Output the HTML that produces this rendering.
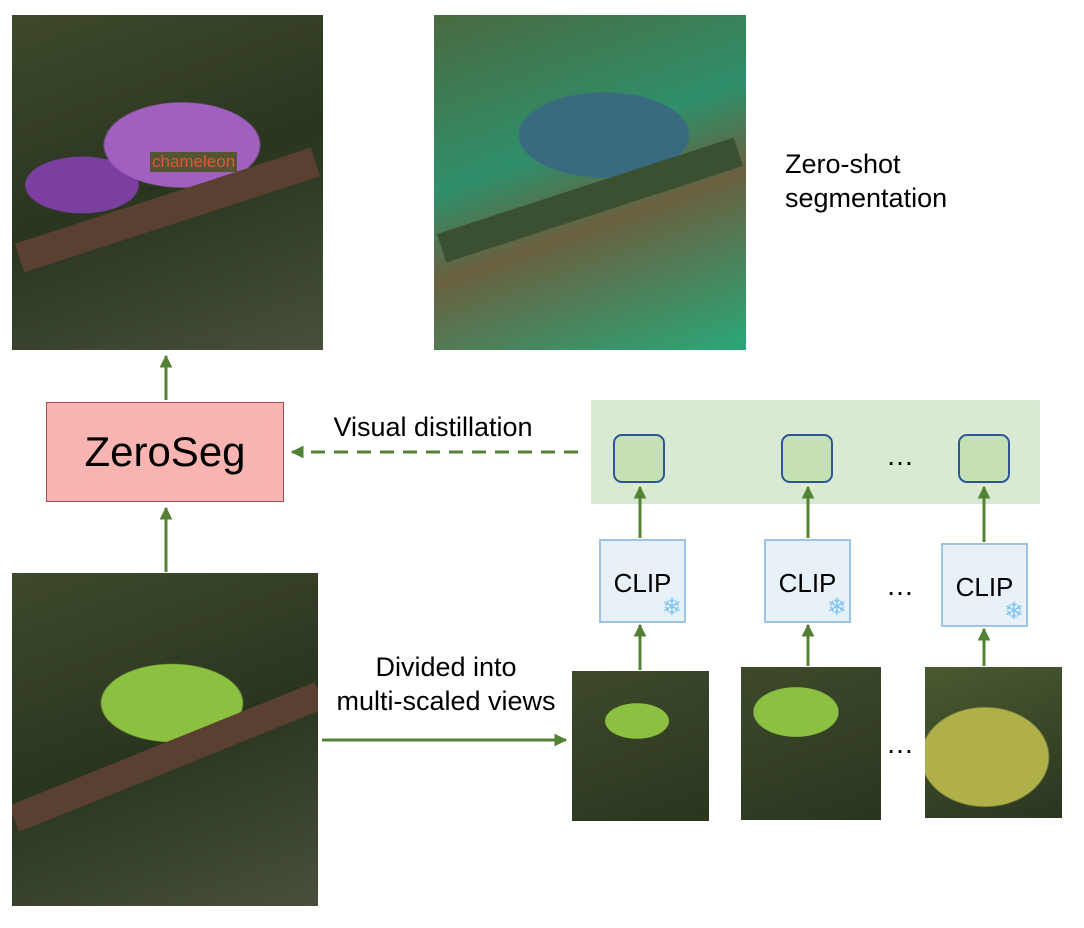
<!DOCTYPE html>
<html><head><meta charset="utf-8"><style>
body{margin:0;width:1084px;height:928px;background:#fff;position:relative;overflow:hidden;font-family:"Liberation Sans",sans-serif}
.a{position:absolute}
.img{position:absolute;overflow:hidden}
.t{position:absolute;color:#000;font-size:27px;text-align:center;line-height:34px}
.sb{position:absolute;width:52px;height:49px;background:#c5e0b4;border:2px solid #2f5597;border-radius:9px;box-sizing:border-box}
.clip{position:absolute;width:87px;height:84px;background:#e8f0f8;border:2px solid #9dc3e6;box-sizing:border-box;font-size:26px;text-align:center;line-height:84px}
.clip span{position:absolute;right:2px;bottom:0;font-size:24px;line-height:26px;color:#7fc4f0}
.dots{position:absolute;font-size:28px}
</style></head><body>
<div class="img" style="left:12px;top:15px;width:311px;height:335px;background:radial-gradient(ellipse 110px 60px at 170px 130px,#a15fc0 70%,transparent 72%),radial-gradient(ellipse 80px 40px at 70px 170px,#7a3fa0 70%,transparent 72%),linear-gradient(160deg,#3e4a2a,#2a3520 50%,#46503a)">
<div class="a" style="left:0;top:180px;width:311px;height:30px;background:#5a4030;transform:rotate(-18deg)"></div>
<div class="a" style="left:138px;top:137px;background:#553;color:#e2553a;font-size:17px;padding:0 2px">chameleon</div></div>
<div class="img" style="left:434px;top:15px;width:312px;height:335px;background:radial-gradient(ellipse 120px 60px at 170px 120px,#3a6a80 70%,transparent 72%),linear-gradient(160deg,#4a6a40,#2f8f6a 40%,#6a6040 60%,#2aa878)">
<div class="a" style="left:0;top:170px;width:312px;height:30px;background:#3a5030;transform:rotate(-18deg)"></div></div>
<div class="img" style="left:12px;top:573px;width:306px;height:333px;background:radial-gradient(ellipse 100px 55px at 160px 130px,#8cc040 70%,transparent 72%),linear-gradient(160deg,#3e4a2a,#2a3520 50%,#46503a)">
<div class="a" style="left:-10px;top:170px;width:330px;height:28px;background:#5a4030;transform:rotate(-22deg)"></div></div>
<div class="img" style="left:572px;top:671px;width:137px;height:150px;background:radial-gradient(ellipse 45px 25px at 65px 50px,#8cc040 70%,transparent 72%),linear-gradient(160deg,#3e4a2a,#2a3520)"></div>
<div class="img" style="left:741px;top:667px;width:140px;height:153px;background:radial-gradient(ellipse 60px 35px at 55px 45px,#8cc040 70%,transparent 72%),linear-gradient(160deg,#3e4a2a,#2a3520)"></div>
<div class="img" style="left:925px;top:667px;width:137px;height:151px;background:radial-gradient(ellipse 90px 70px at 60px 90px,#b0b048 70%,transparent 72%),linear-gradient(160deg,#4a5a30,#2a3520)"></div>

<div class="t" style="left:785px;top:147px;width:220px;text-align:left">Zero-shot<br>segmentation</div>

<div class="a" style="left:46px;top:402px;width:238px;height:100px;background:#f8b4b0;border:1.5px solid #a05050;box-sizing:border-box;font-size:42px;text-align:center;line-height:98px">ZeroSeg</div>

<div class="a" style="left:591px;top:400px;width:449px;height:104px;background:#d9ead3"></div>
<div class="sb" style="left:613px;top:434px"></div>
<div class="sb" style="left:781px;top:434px"></div>
<div class="sb" style="left:958px;top:434px"></div>
<div class="dots" style="left:886px;top:440px">…</div>

<div class="clip" style="left:599px;top:539px">CLIP<span>❄</span></div>
<div class="clip" style="left:764px;top:539px">CLIP<span>❄</span></div>
<div class="clip" style="left:941px;top:543px">CLIP<span>❄</span></div>
<div class="dots" style="left:886px;top:570px">…</div>
<div class="dots" style="left:886px;top:728px">…</div>

<div class="t" style="left:308px;top:410px;width:250px">Visual distillation</div>
<div class="t" style="left:314px;top:650px;width:264px">Divided into<br>multi-scaled views</div>

<svg class="a" style="left:0;top:0" width="1084" height="928">
<defs><marker id="h" viewBox="0 0 10 10" markerWidth="13" markerHeight="13" refX="9" refY="5" orient="auto" markerUnits="userSpaceOnUse"><path d="M0,0L10,5L0,10z" fill="#548235"/></marker></defs>
<g stroke="#548235" stroke-width="3" fill="none">
<line x1="166" y1="400" x2="166" y2="356" marker-end="url(#h)"/>
<line x1="166" y1="572" x2="166" y2="508" marker-end="url(#h)"/>
<line x1="578" y1="452" x2="292" y2="452" stroke-dasharray="14,9" marker-end="url(#h)"/>
<line x1="322" y1="740" x2="566" y2="740" marker-end="url(#h)"/>
<line x1="640" y1="538" x2="640" y2="487" marker-end="url(#h)"/>
<line x1="808" y1="538" x2="808" y2="487" marker-end="url(#h)"/>
<line x1="984" y1="542" x2="984" y2="487" marker-end="url(#h)"/>
<line x1="640" y1="670" x2="640" y2="625" marker-end="url(#h)"/>
<line x1="808" y1="666" x2="808" y2="625" marker-end="url(#h)"/>
<line x1="984" y1="666" x2="984" y2="629" marker-end="url(#h)"/>
</g></svg>
</body></html>
